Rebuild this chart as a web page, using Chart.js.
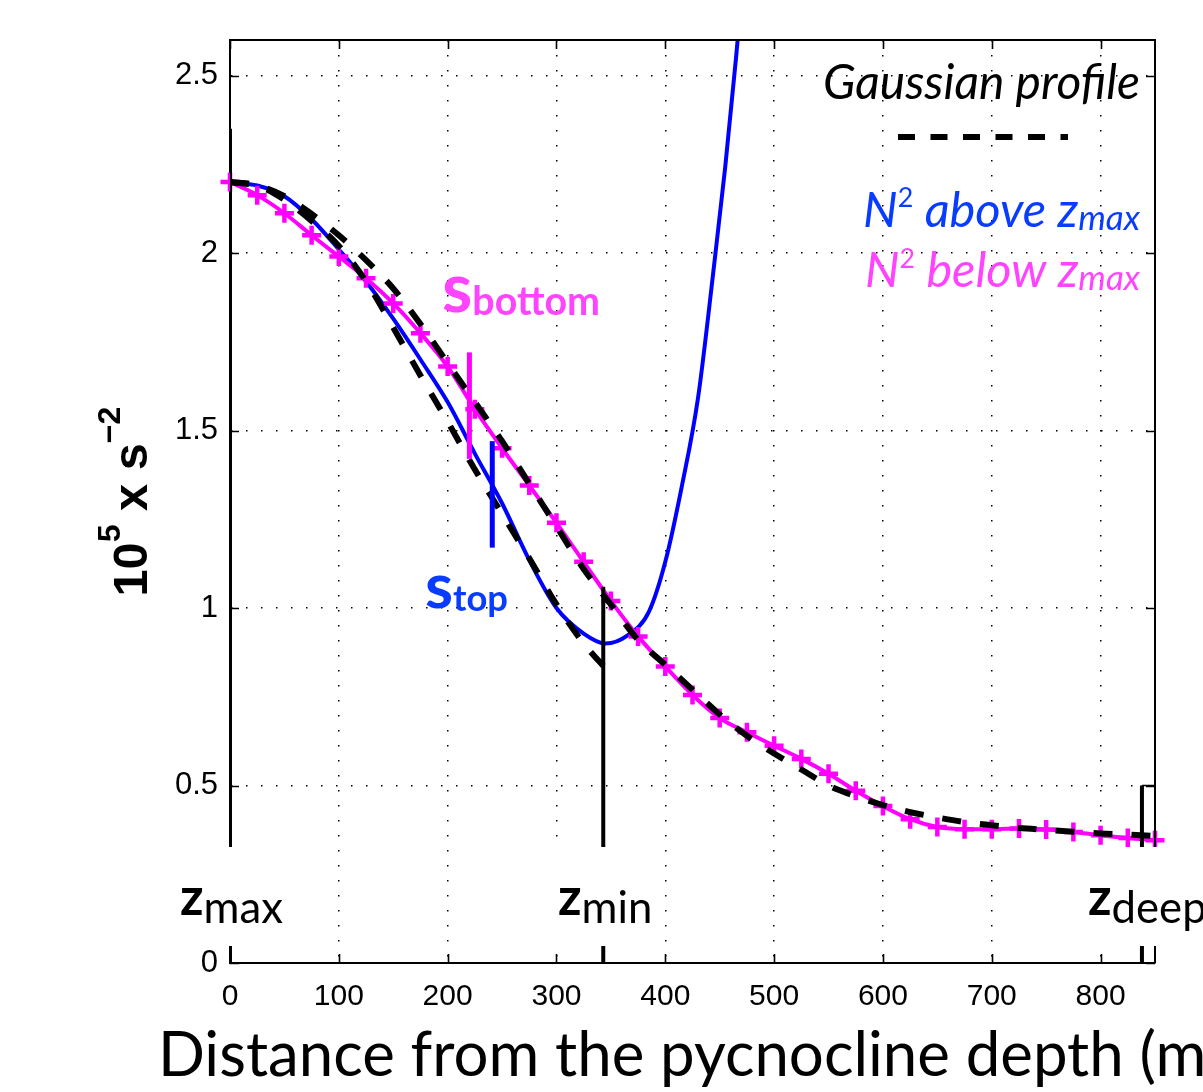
<!DOCTYPE html>
<html><head><meta charset="utf-8">
<script src="https://cdn.jsdelivr.net/npm/chart.js@4.4.1/dist/chart.umd.min.js"></script>
<style>html,body{margin:0;padding:0;background:#fff;overflow:hidden}#c{display:block}</style>
</head><body>
<canvas id="c" width="1203" height="1092"></canvas>
<script>
// ---------------- data ----------------
const xTickValues = [0,100,200,300,400,500,600,700,800];
const yTickValues = [0,0.5,1,1.5,2,2.5];

// N^2 below z_max (magenta, with + markers)
const magentaX = [0,25,50,75,100,125,150,175,200,225,250,275,300,325,350,375,400,425,450,475,500,525,550,575,600,625,650,675,700,725,750,775,800,825,850];
const magentaY = [2.20,2.163,2.112,2.05,1.99,1.929,1.858,1.774,1.68,1.56,1.45,1.345,1.24,1.13,1.02,0.92,0.835,0.755,0.69,0.65,0.612,0.575,0.533,0.485,0.442,0.405,0.383,0.377,0.377,0.379,0.376,0.369,0.36,0.352,0.346];

// N^2 above z_max (blue)
const blueX = [0,25,50,75,100,125,150,175,200,225,250,275,300,325,345,365,385,400,415,430,445,455,465,470];
const blueY = [2.20,2.19,2.16,2.095,2.01,1.92,1.815,1.70,1.58,1.435,1.295,1.135,1.00,0.928,0.90,0.922,0.99,1.13,1.34,1.59,1.97,2.24,2.55,2.72];

// Gaussian profile, wide (whole column)
const gaussWideX = [0,25,50,75,100,125,150,175,200,225,250,275,300,325,350,375,400,425,450,475,500,525,550,575,600,625,650,675,700,725,750,775,800,825,850];
const gaussWideY = [2.20,2.19,2.16,2.11,2.05,1.98,1.90,1.80,1.69,1.58,1.47,1.35,1.23,1.11,1.01,0.91,0.84,0.77,0.70,0.64,0.59,0.545,0.50,0.47,0.445,0.425,0.41,0.397,0.388,0.38,0.375,0.37,0.365,0.362,0.358];

// Gaussian profile, narrow (above z_min)
const gaussNarrowX = [0,25,50,75,100,125,150,175,200,225,250,275,300,325,345];
const gaussNarrowY = [2.20,2.19,2.15,2.09,2.02,1.92,1.79,1.655,1.525,1.39,1.265,1.14,1.01,0.90,0.83];

// vertical depth markers: z_max, z_min, z_deep
const zLineX   = [0, 343, 838];
const zLineTop = [2.35, 1.06, 0.5];
// s_bottom (magenta) and s_top (blue) bars
const sBarX    = [220, 241];
const sBarLow  = [1.42, 1.17];
const sBarHigh = [1.72, 1.47];

// ---------------- helpers ----------------
const pts = (xs, ys) => xs.map((v, i) => ({x: v, y: ys[i]}));
const TICK_FONT = "'Liberation Sans', Arial, Helvetica, sans-serif";
const HUM = "Lato, 'Open Sans', sans-serif";
const BLUE = '#0000ff', MAG = '#ff00ff', BLUE_T = '#0a3cff', MAG_T = '#ff44ff';

function fontStr(s, base) {
  return (s.style || 'normal') + ' ' + (s.weight || 'normal') + ' ' + (s.k * base).toFixed(2) + 'px ' + (s.family || HUM);
}
function richWidth(ctx, segs, base) {
  let w = 0;
  for (const s of segs) { ctx.font = fontStr(s, base); w += ctx.measureText(s.t).width; }
  return w;
}
function fitBase(ctx, segs, target) { return 100 * target / richWidth(ctx, segs, 100); }
function drawRich(ctx, segs, x, y, base, align, color) {
  const w = richWidth(ctx, segs, base);
  let cx = align === 'right' ? x - w : align === 'center' ? x - w / 2 : x;
  ctx.textAlign = 'left'; ctx.textBaseline = 'alphabetic'; ctx.fillStyle = color;
  for (const s of segs) {
    ctx.font = fontStr(s, base);
    ctx.fillText(s.t, cx, y + (s.dy || 0) * base);
    cx += ctx.measureText(s.t).width;
  }
}

// ---------------- datasets ----------------
const datasets = [];
const zNames = ['z_max', 'z_min', 'z_deep'];
zLineX.forEach((xv, i) => datasets.push({
  label: zNames[i], data: [{x: xv, y: 0}, {x: xv, y: zLineTop[i]}],
  borderColor: '#000', borderWidth: 4, pointRadius: 0, tension: 0, order: 0
}));
// small cap of z_deep bracket up to the right axis
datasets.push({label: 'z_deep cap', data: [{x: zLineX[2], y: zLineTop[2]}, {x: 850, y: zLineTop[2]}],
  borderColor: '#000', borderWidth: 1.5, pointRadius: 0, tension: 0, order: 0});
const sColors = [MAG, BLUE];
sBarX.forEach((xv, i) => datasets.push({
  label: i ? 's_top' : 's_bottom', data: [{x: xv, y: sBarLow[i]}, {x: xv, y: sBarHigh[i]}],
  borderColor: sColors[i], borderWidth: 5, pointRadius: 0, tension: 0, order: 0
}));
const dashStyle = {borderColor: '#000', borderWidth: 6, borderDash: [19, 19], borderCapStyle: 'butt',
  pointRadius: 0, cubicInterpolationMode: 'monotone', order: 1};
datasets.push(Object.assign({label: 'Gaussian narrow', data: pts(gaussNarrowX, gaussNarrowY)}, dashStyle));
datasets.push(Object.assign({label: 'Gaussian wide', data: pts(gaussWideX, gaussWideY)}, dashStyle));
datasets.push({label: 'N2 below zmax', data: pts(magentaX, magentaY), borderColor: MAG, borderWidth: 4,
  cubicInterpolationMode: 'monotone', pointStyle: 'cross', pointRadius: 9.5, pointBorderWidth: 4.5,
  pointBorderColor: MAG, pointBackgroundColor: MAG, clip: false, order: 2});
datasets.push({label: 'N2 above zmax', data: pts(blueX, blueY), borderColor: BLUE, borderWidth: 4,
  cubicInterpolationMode: 'monotone', pointRadius: 0, order: 3});

// ---------------- overlay plugin (frame, inside ticks, texts) ----------------
const overlay = {
  id: 'overlay',
  afterDatasetsDraw(chart) {
    const {ctx, chartArea: a, scales: {x, y}} = chart;
    ctx.save();
    // top and right frame
    ctx.strokeStyle = '#000'; ctx.lineWidth = 2; ctx.setLineDash([]);
    ctx.beginPath(); ctx.moveTo(a.left, a.top); ctx.lineTo(a.right, a.top); ctx.lineTo(a.right, a.bottom); ctx.stroke();
    // inside tick marks (MATLAB style)
    ctx.lineWidth = 1.6; ctx.beginPath();
    for (const v of xTickValues) {
      const p = Math.round(x.getPixelForValue(v)) + 0.5;
      ctx.moveTo(p, a.bottom); ctx.lineTo(p, a.bottom - 9);
      ctx.moveTo(p, a.top); ctx.lineTo(p, a.top + 9);
    }
    for (const v of yTickValues) {
      const p = Math.round(y.getPixelForValue(v)) + 0.5;
      ctx.moveTo(a.left, p); ctx.lineTo(a.left + 9, p);
      ctx.moveTo(a.right, p); ctx.lineTo(a.right - 9, p);
    }
    ctx.stroke();

    // white label boxes at the bottom band
    ctx.fillStyle = '#fff';
    ctx.fillRect(168, 847, 126, 99);
    ctx.fillRect(549, 847, 110, 99);
    ctx.fillRect(1082, 847, 121, 99);

    // legend: Gaussian profile
    const gSeg = [{t: 'Gaussian profile', k: 1, style: 'italic'}];
    drawRich(ctx, gSeg, 1140, 99, fitBase(ctx, gSeg, 317), 'right', '#000');
    ctx.strokeStyle = '#000'; ctx.lineWidth = 6; ctx.setLineDash([17, 15.5]);
    ctx.beginPath(); ctx.moveTo(898, 137); ctx.lineTo(1068, 137); ctx.stroke();
    ctx.setLineDash([]);

    const nSeg = (w) => [
      {t: 'N', k: 1, style: 'italic'},
      {t: '2', k: 0.55, dy: -0.4},
      {t: ' ' + w + ' ', k: 1, style: 'italic'},
      {t: 'z', k: 1, style: 'italic'},
      {t: 'max', k: 0.72, style: 'italic', dy: 0.06}
    ];
    const sa = nSeg('above'), sb = nSeg('below');
    drawRich(ctx, sa, 1140, 227, fitBase(ctx, sa, 277), 'right', BLUE_T);
    drawRich(ctx, sb, 1140, 287, fitBase(ctx, sb, 275), 'right', MAG_T);

    // s_bottom / s_top labels
    const sbSeg = [{t: 's', k: 1, weight: 'bold'}, {t: 'bottom', k: 0.57, weight: 'bold', dy: 0.05}];
    drawRich(ctx, sbSeg, 442, 312, fitBase(ctx, sbSeg, 158), 'left', MAG_T);
    const stSeg = [{t: 's', k: 1, weight: 'bold'}, {t: 'top', k: 0.57, weight: 'bold', dy: 0.05}];
    drawRich(ctx, stSeg, 425, 608, fitBase(ctx, stSeg, 83), 'left', BLUE_T);

    // z labels
    const zSeg = (sub) => [{t: 'z', k: 1, weight: 'bold'}, {t: sub, k: 0.85, dy: 0.15}];
    const zb = fitBase(ctx, zSeg('max'), 103);
    drawRich(ctx, zSeg('max'), 180, 915, zb, 'left', '#000');
    drawRich(ctx, zSeg('min'), 558, 915, zb, 'left', '#000');
    drawRich(ctx, zSeg('deep'), 1088, 915, zb, 'left', '#000');

    // x axis title
    const xt = [{t: 'Distance from the pycnocline depth (m)', k: 1}];
    const xb = fitBase(ctx, [{t: 'Distance from the pycnocline depth (', k: 1}], 998);
    drawRich(ctx, xt, 158, 1076, xb, 'left', '#000');

    // y axis title (rotated) 10^5 x s^-2
    ctx.save();
    ctx.translate(147, (a.top + a.bottom) / 2);
    ctx.rotate(-Math.PI / 2);
    const yt = [
      {t: '10', k: 1, weight: 'bold', family: TICK_FONT},
      {t: '5', k: 0.66, weight: 'bold', family: TICK_FONT, dy: -0.55},
      {t: ' x s', k: 1, weight: 'bold', family: TICK_FONT},
      {t: '\u22122', k: 0.66, weight: 'bold', family: TICK_FONT, dy: -0.55}
    ];
    drawRich(ctx, yt, 0, 0, fitBase(ctx, yt, 190), 'center', '#000');
    ctx.restore();
    ctx.restore();
  }
};

Chart.defaults.font.family = TICK_FONT;
new Chart(document.getElementById('c'), {
  type: 'line',
  data: {datasets},
  options: {
    responsive: false, animation: false, devicePixelRatio: 1,
    layout: {padding: {left: 0, top: 40, right: 48, bottom: 0}},
    plugins: {legend: {display: false}, tooltip: {enabled: false}},
    elements: {point: {radius: 0}},
    scales: {
      x: {
        type: 'linear', min: 0, max: 850,
        afterFit(s) { s.height = 129; },
        ticks: {stepSize: 100, includeBounds: false, autoSkip: false, maxRotation: 0,
          font: {size: 30, family: TICK_FONT}, color: '#000', padding: 16,
          callback: v => String(v)},
        grid: {color: '#000', lineWidth: 1.5, drawTicks: false},
        border: {display: true, color: '#000', width: 2, dash: [1.5, 13.5]}
      },
      y: {
        type: 'linear', min: 0, max: 2.6,
        afterFit(s) { s.width = 230; },
        ticks: {stepSize: 0.5, includeBounds: false, autoSkip: false,
          font: {size: 31, family: TICK_FONT}, color: '#000', padding: 12,
          callback: v => String(v)},
        grid: {color: '#000', lineWidth: 1.5, drawTicks: false},
        border: {display: true, color: '#000', width: 2, dash: [1.5, 13.5]}
      }
    }
  },
  plugins: [overlay]
});
</script>
</body></html>
